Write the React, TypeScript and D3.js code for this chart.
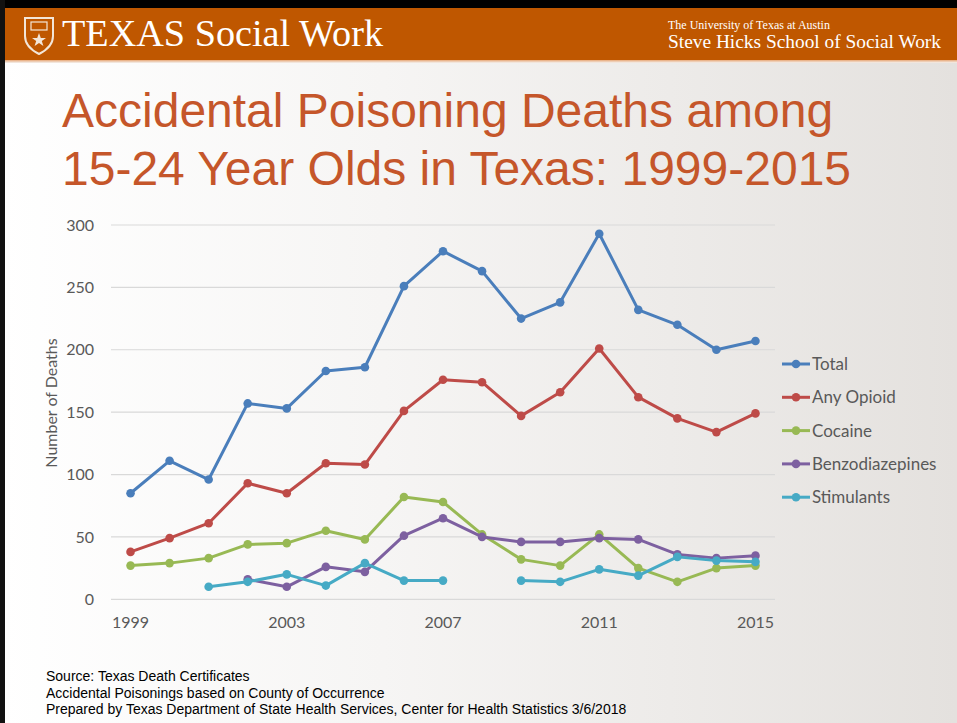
import React from "react";
import * as d3 from "d3";

const years = [1999, 2000, 2001, 2002, 2003, 2004, 2005, 2006, 2007, 2008, 2009, 2010, 2011, 2012, 2013, 2014, 2015];
const xTickYears = [1999, 2003, 2007, 2011, 2015];
const yTicks = [0, 50, 100, 150, 200, 250, 300];

const total = [85, 111, 96, 157, 153, 183, 186, 251, 279, 263, 225, 238, 293, 232, 220, 200, 207];
const anyOpioid = [38, 49, 61, 93, 85, 109, 108, 151, 176, 174, 147, 166, 201, 162, 145, 134, 149];
const cocaine = [27, 29, 33, 44, 45, 55, 48, 82, 78, 52, 32, 27, 52, 25, 14, 25, 27];
const benzodiazepines = [null, null, null, 16, 10, 26, 22, 51, 65, 50, 46, 46, 49, 48, 36, 33, 35];
const stimulants = [null, null, 10, 14, 20, 11, 29, 15, 15, null, 15, 14, 24, 19, 34, 31, 30];

const seriesNames = ["Total", "Any Opioid", "Cocaine", "Benzodiazepines", "Stimulants"];
const seriesColors = ["#4A7EBB", "#BE4B48", "#98B954", "#7D60A0", "#46AAC5"];
const seriesValues: (number | null)[][] = [total, anyOpioid, cocaine, benzodiazepines, stimulants];

const footerLines = [
  "Source: Texas Death Certificates",
  "Accidental Poisonings based on County of Occurrence",
  "Prepared by Texas Department of State Health Services, Center for Health Statistics 3/6/2018",
];

export default function App() {
  const W = 957;
  const H = 723;
  const x = d3.scalePoint<number>().domain(years).range([111, 775]).padding(0.5);
  const y = d3.scaleLinear().domain([0, 300]).range([599.3, 225]);
  const line = d3
    .line<number | null>()
    .defined((d) => d !== null)
    .x((_, i) => x(years[i]) as number)
    .y((d) => y(d as number));

  const tickFont = "Lato, 'Open Sans', sans-serif";
  const legendY0 = 364;
  const legendStep = 33.3;

  return (
    <svg
      width={W}
      height={H}
      style={{ position: "absolute", left: 0, top: 0, display: "block" }}
    >
      <defs>
        <linearGradient id="bg" x1="0" y1="0" x2="1" y2="0">
          <stop offset="0" stopColor="#ffffff" />
          <stop offset="0.4" stopColor="#f6f5f4" />
          <stop offset="1" stopColor="#e4e1de" />
        </linearGradient>
        <linearGradient id="strip" x1="0" y1="0" x2="0" y2="1">
          <stop offset="0" stopColor="#e8a878" />
          <stop offset="1" stopColor="#f4f2f0" />
        </linearGradient>
      </defs>
      <rect x={0} y={0} width={W} height={H} fill="url(#bg)" />
      {/* header */}
      <rect x={0} y={0} width={W} height={8} fill="#000" />
      <rect x={0} y={0} width={5} height={H} fill="#111" />
      <rect x={5} y={8} width={W - 5} height={52} fill="#BF5700" />
      <rect x={5} y={60} width={W - 5} height={3} fill="url(#strip)" />
      {/* shield logo */}
      <g transform="translate(25,18)">
        <path
          d="M0,0 L28,0 L28,18 C28,28 20,33 14,36 C8,33 0,28 0,18 Z"
          fill="none"
          stroke="#f3e6d8"
          strokeWidth={2}
        />
        <rect x={6} y={4} width={16} height={8} fill="none" stroke="#f3e6d8" strokeWidth={1.2} />
        <path
          d="M14,15 L15.8,20 L21,20 L16.8,23 L18.4,28 L14,25 L9.6,28 L11.2,23 L7,20 L12.2,20 Z"
          fill="#f3e6d8"
        />
      </g>
      <text
        x={62}
        y={46}
        fill="#ffffff"
        fontFamily="'Liberation Serif', 'DejaVu Serif', serif"
        fontSize={37}
        textLength={321}
        lengthAdjust="spacingAndGlyphs"
      >
        TEXAS Social Work
      </text>
      <text
        x={668}
        y={29}
        fill="#ffffff"
        fontFamily="'Liberation Serif', serif"
        fontSize={12}
      >
        The University of Texas at Austin
      </text>
      <text
        x={941}
        y={48}
        textAnchor="end"
        fill="#ffffff"
        fontFamily="'Liberation Serif', serif"
        fontSize={19}
        textLength={273}
        lengthAdjust="spacingAndGlyphs"
      >
        Steve Hicks School of Social Work
      </text>
      {/* title */}
      <text
        x={62}
        y={127}
        fill="#C5562A"
        fontFamily="'Liberation Sans', Arial, sans-serif"
        fontSize={48}
      >
        Accidental Poisoning Deaths among
      </text>
      <text
        x={62}
        y={185}
        fill="#C5562A"
        fontFamily="'Liberation Sans', Arial, sans-serif"
        fontSize={48}
      >
        15-24 Year Olds in Texas: 1999-2015
      </text>
      {/* grid */}
      {yTicks.map((t) => (
        <g key={t}>
          <line x1={111} x2={775} y1={y(t)} y2={y(t)} stroke="#d9d9d9" strokeWidth={1.2} />
          <text
            x={94}
            y={y(t)}
            dy="0.35em"
            textAnchor="end"
            fill="#595959"
            fontFamily={tickFont}
            fontSize={16}
          >
            {t}
          </text>
        </g>
      ))}
      {xTickYears.map((yr) => (
        <text
          key={yr}
          x={x(yr)}
          y={628}
          textAnchor="middle"
          fill="#595959"
          fontFamily={tickFont}
          fontSize={16}
        >
          {yr}
        </text>
      ))}
      <text
        transform={`translate(57,403) rotate(-90)`}
        textAnchor="middle"
        fill="#595959"
        fontFamily={tickFont}
        fontSize={16}
      >
        Number of Deaths
      </text>
      {/* series */}
      {seriesValues.map((vals, si) => (
        <g key={seriesNames[si]}>
          <path d={line(vals) || ""} fill="none" stroke={seriesColors[si]} strokeWidth={3} strokeLinejoin="round" />
          {vals.map((v, i) =>
            v === null ? null : (
              <circle key={i} cx={x(years[i])} cy={y(v)} r={4.3} fill={seriesColors[si]} />
            )
          )}
        </g>
      ))}
      {/* legend */}
      {seriesNames.map((name, si) => {
        const ly = legendY0 + si * legendStep;
        return (
          <g key={name}>
            <line x1={782} x2={810} y1={ly} y2={ly} stroke={seriesColors[si]} strokeWidth={3} />
            <circle cx={796} cy={ly} r={4.3} fill={seriesColors[si]} />
            <text
              x={812}
              y={ly}
              dy="0.35em"
              fill="#595959"
              fontFamily={tickFont}
              fontSize={17}
            >
              {name}
            </text>
          </g>
        );
      })}
      {/* footer */}
      {footerLines.map((l, i) => (
        <text
          key={i}
          x={46}
          y={681 + i * 16.7}
          fill="#000"
          fontFamily="'Liberation Sans', Arial, sans-serif"
          fontSize={14}
        >
          {l}
        </text>
      ))}
    </svg>
  );
}
